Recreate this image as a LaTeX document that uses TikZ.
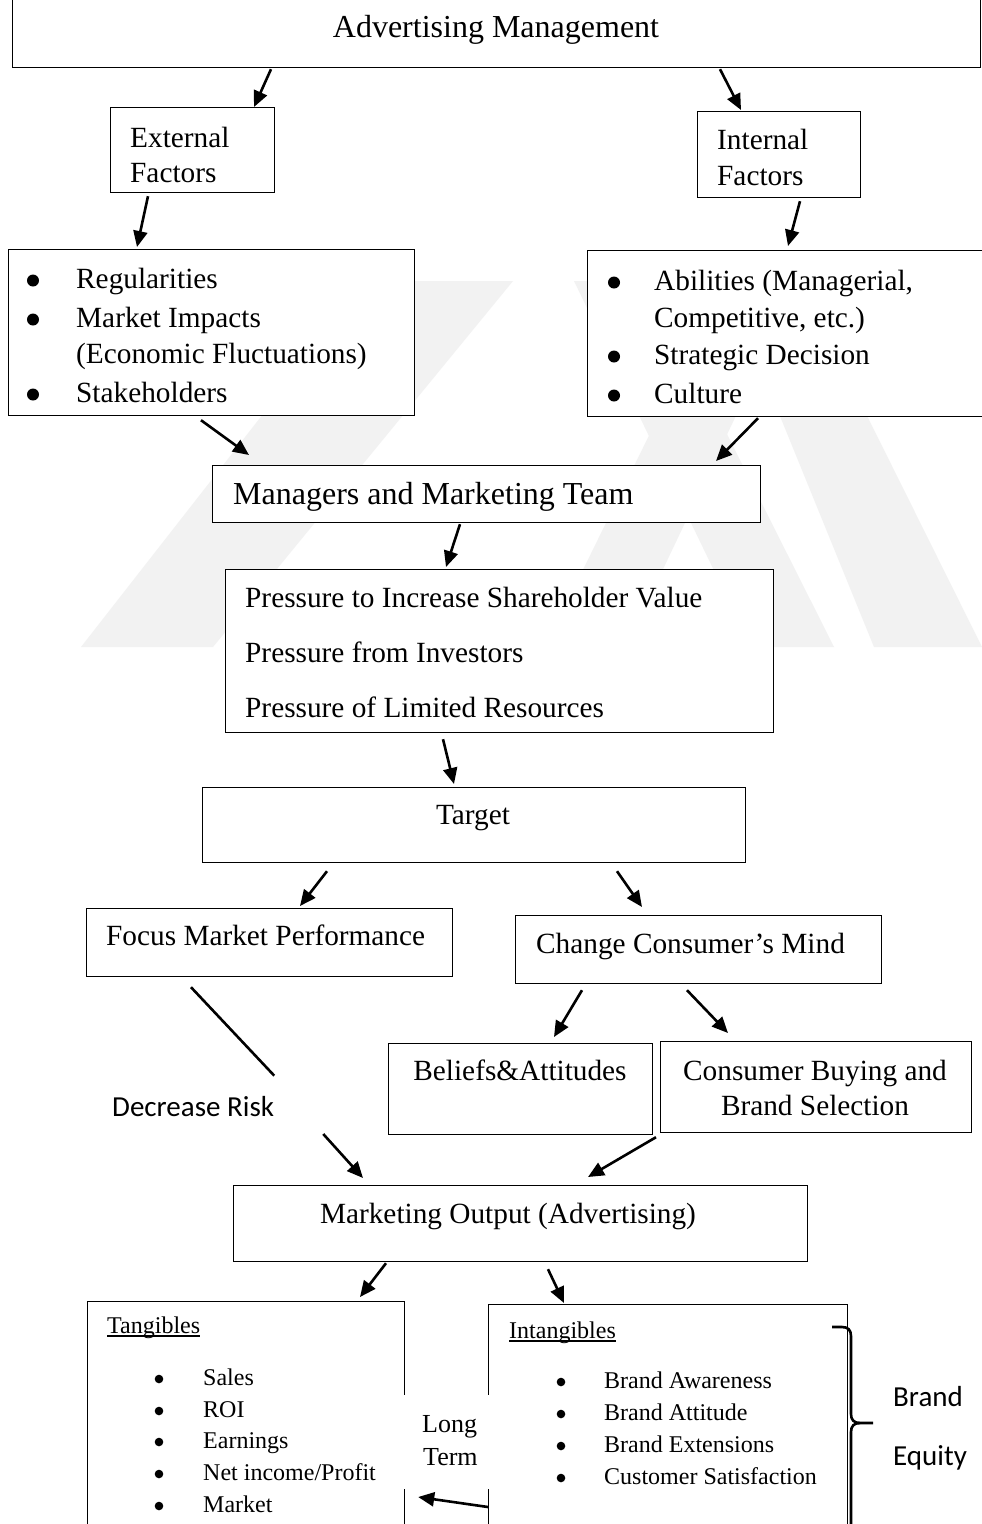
\documentclass[tikz,border=0pt]{standalone}
\usepackage{fontspec}
\setmainfont{Liberation Serif}
\newfontfamily\calfont{Carlito}
\usetikzlibrary{arrows.meta}
\tikzset{
  box/.style={draw, line width=1.2pt, fill=white, inner sep=0pt, anchor=north west, rectangle},
  txt/.style={inner sep=0pt, anchor=base west, font=\fontsize{29.3}{36}\selectfont},
  ctxt/.style={txt, anchor=base},
  bigtxt/.style={inner sep=0pt, anchor=base west, font=\fontsize{32}{37}\selectfont},
  small/.style={inner sep=0pt, anchor=base west, font=\fontsize{24}{28}\selectfont},
  midtxt/.style={inner sep=0pt, anchor=base west, font=\fontsize{26}{30}\selectfont},
  caltxt/.style={inner sep=0pt, anchor=base west, font=\calfont\fontsize{29}{34}\selectfont},
  arr/.style={line width=2.6pt, -{Triangle[length=16pt,width=14pt]}},
  plainline/.style={line width=2.6pt},
  wm/.style={fill=black!5, draw=none},
}
\begin{document}
\begin{tikzpicture}[x=1pt,y=-1pt]
\useasboundingbox (0,0) rectangle (982,1524);
\clip (0,0) rectangle (982,1524);
\fill[white] (0,0) rectangle (982,1524);
% watermark
\fill[wm] (367,281) -- (513,281) -- (213,647) -- (81,647) -- cycle;
\fill[wm] (574,281) -- (650,281) -- (834,647) -- (751,647) -- cycle;
\fill[wm] (545,647) -- (626,647) -- (800,281) -- (725,281) -- cycle;
\fill[wm] (725,281) -- (800,281) -- (982,647) -- (874,647) -- cycle;
% boxes
\node[box, minimum width=968pt, minimum height=72pt] (top) at (12,-5) {};
\node[box, minimum width=164pt, minimum height=85pt] (ext) at (110,107) {};
\node[box, minimum width=163pt, minimum height=86pt] (int) at (697,111) {};
\node[box, minimum width=406pt, minimum height=166pt] (extl) at (8,249) {};
\node[box, minimum width=410pt, minimum height=166pt] (intl) at (587,250) {};
\node[box, minimum width=548pt, minimum height=57pt] (mgr) at (212,465) {};
\node[box, minimum width=548pt, minimum height=163pt] (pres) at (225,569) {};
\node[box, minimum width=543pt, minimum height=75pt] (tgt) at (202,787) {};
\node[box, minimum width=366pt, minimum height=68pt] (focus) at (86,908) {};
\node[box, minimum width=366pt, minimum height=68pt] (change) at (515,915) {};
\node[box, minimum width=264pt, minimum height=91pt] (bel) at (388,1043) {};
\node[box, minimum width=311pt, minimum height=91pt] (cons) at (660,1041) {};
\node[box, minimum width=574pt, minimum height=76pt] (mkt) at (233,1185) {};
\node[box, minimum width=317pt, minimum height=260pt] (tan) at (87,1301) {};
\node[box, minimum width=359pt, minimum height=260pt] (intan) at (488,1304) {};
\node[fill=white, draw=none, inner sep=0pt, anchor=north west, minimum width=93pt, minimum height=94pt] (ltbg) at (399,1395) {};
% texts
\node[bigtxt, anchor=base] (topt) at (496,37) {Advertising Management};
\node[txt] (ext1) at (130,147) {External};
\node[txt] (ext2) at (130,182) {Factors};
\node[txt] (int1) at (717,149) {Internal};
\node[txt] (int2) at (717,185) {Factors};
\node[txt] (el1) at (76,288) {Regularities};
\node[txt] (el2) at (76,327) {Market Impacts};
\node[txt] (el3) at (76,363) {(Economic Fluctuations)};
\node[txt] (el4) at (76,402) {Stakeholders};
\fill (33,280.5) circle (6);
\fill (33,319.5) circle (6);
\fill (33,394.5) circle (6);
\node[txt] (il1) at (654,290) {Abilities (Managerial,};
\node[txt] (il2) at (654,327) {Competitive, etc.)};
\node[txt] (il3) at (654,364) {Strategic Decision};
\node[txt] (il4) at (654,403) {Culture};
\fill (614,282.5) circle (6);
\fill (614,356.5) circle (6);
\fill (614,395.5) circle (6);
\node[bigtxt] (mgrt) at (233,504) {Managers and Marketing Team};
\node[txt] (pr1) at (245,607) {Pressure to Increase Shareholder Value};
\node[txt] (pr2) at (245,662) {Pressure from Investors};
\node[txt] (pr3) at (245,717) {Pressure of Limited Resources};
\node[ctxt] (tgtt) at (473,824) {Target};
\node[txt] (focust) at (106,945) {Focus Market Performance};
\node[txt] (changet) at (536,953) {Change Consumer’s Mind};
\node[ctxt] (belt) at (520,1080) {Beliefs\&Attitudes};
\node[ctxt] (cons1) at (815,1080) {Consumer Buying and};
\node[ctxt] (cons2) at (815,1115) {Brand Selection};
\node[ctxt] (mktt) at (508,1223) {Marketing Output (Advertising)};
\node[caltxt] (drisk) at (112,1116) {Decrease Risk};
% tangibles
\node[small] (tanh) at (107,1333) {Tangibles};
\draw[line width=1.2pt] ([yshift=-3pt]tanh.base west) -- ([yshift=-3pt]tanh.base east);
\node[small] (t1) at (203,1385) {Sales};
\node[small] (t2) at (203,1417) {ROI};
\node[small] (t3) at (203,1448) {Earnings};
\node[small] (t4) at (203,1480) {Net income/Profit};
\node[small] (t5) at (203,1512) {Market};
\foreach \yy in {1385,1417,1448,1480,1512} {\fill (159,\yy-6) circle (4.3);}
% intangibles
\node[small] (intanh) at (509,1338) {Intangibles};
\draw[line width=1.2pt] ([yshift=-3pt]intanh.base west) -- ([yshift=-3pt]intanh.base east);
\node[small] (i1) at (604,1388) {Brand Awareness};
\node[small] (i2) at (604,1420) {Brand Attitude};
\node[small] (i3) at (604,1452) {Brand Extensions};
\node[small] (i4) at (604,1484) {Customer Satisfaction};
\foreach \yy in {1388,1420,1452,1484} {\fill (561,\yy-6) circle (4.3);}
% long term
\node[midtxt] (lt1) at (422,1432) {Long};
\node[midtxt] (lt2) at (423,1465) {Term};
% brand equity
\node[caltxt] (be1) at (893,1406) {Brand};
\node[caltxt] (be2) at (893,1465) {Equity};
\draw[line width=2.6pt] (832,1327) -- (842,1327) .. controls (848,1327) and (851,1330) .. (851,1336) -- (851,1414) .. controls (851,1420) and (854,1423) .. (860,1423) -- (873,1423);
\draw[line width=2.6pt] (860,1423) .. controls (854,1423) and (851,1426) .. (851,1432) -- (851,1560);
% connectors
\draw[arr] ([shift={(259,1)}]top.south west) -- ([shift={(144,0)}]ext.north west);
\draw[arr] ([shift={(708,1)}]top.south west) -- ([shift={(44,-1)}]int.north west);
\draw[arr] ([shift={(38,3)}]ext.south west) -- ([shift={(129,-2)}]extl.north west);
\draw[arr] ([shift={(103,3)}]int.south west) -- ([shift={(201,-4)}]intl.north west);
\draw[arr] ([shift={(193,4)}]extl.south west) -- ([shift={(37,-10)}]mgr.north west);
\draw[arr] ([shift={(171,1)}]intl.south west) -- ([shift={(504,-4)}]mgr.north west);
\draw[arr] ([shift={(248,1)}]mgr.south west) -- ([shift={(221,-2)}]pres.north west);
\draw[arr] ([shift={(218,6)}]pres.south west) -- ([shift={(252,-3)}]tgt.north west);
\draw[arr] ([shift={(125,8)}]tgt.south west) -- ([shift={(214,-2)}]focus.north west);
\draw[arr] ([shift={(415,8)}]tgt.south west) -- ([shift={(127,-8)}]change.north west);
\draw[plainline] ([shift={(105,10)}]focus.south west) -- ([shift={(0,-20)}]drisk.north east);
\draw[arr] ([shift={(49,18)}]drisk.base east) -- ([shift={(130,-7)}]mkt.north west);
\draw[arr] ([shift={(67,6)}]change.south west) -- ([shift={(166,-6)}]bel.north west);
\draw[arr] ([shift={(172,6)}]change.south west) -- ([shift={(68,-8)}]cons.north west);
\draw[arr] ([shift={(-4,4)}]cons.south west) -- ([shift={(355,-8)}]mkt.north west);
\draw[arr] ([shift={(153,1)}]mkt.south west) -- ([shift={(273,-4)}]tan.north west);
\draw[arr] ([shift={(315,7)}]mkt.south west) -- ([shift={(76,-1)}]intan.north west);
\draw[arr] ([shift={(0,203)}]intan.north west) -- ([shift={(13,196)}]tan.north east);
\end{tikzpicture}
\end{document}
